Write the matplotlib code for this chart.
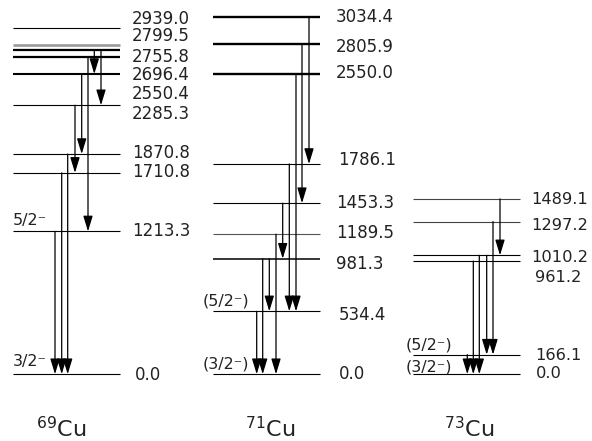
import matplotlib
matplotlib.use("Agg")
import matplotlib.pyplot as plt

plt.rcParams['font.family'] = ['DejaVu Sans']
plt.rcParams['mathtext.fontset'] = 'dejavusans'
plt.rcParams['mathtext.default'] = 'regular'

# ---------------- data ----------------
nuclei = ['69', '71', '73']

levels_69 = [0.0, 1213.3, 1710.8, 1870.8, 2285.3, 2550.4, 2696.4, 2755.8, 2799.5, 2939.0]
levels_71 = [0.0, 534.4, 981.3, 1189.5, 1453.3, 1786.1, 2550.0, 2805.9, 3034.4]
levels_73 = [0.0, 166.1, 961.2, 1010.2, 1297.2, 1489.1]

gamma_from_69 = [2755.8, 2755.8, 2696.4, 2550.4, 2285.3, 1870.8, 1710.8, 1213.3]
gamma_to_69 = [2550.4, 2285.3, 1213.3, 1870.8, 1710.8, 0.0, 0.0, 0.0]

gamma_from_71 = [3034.4, 2805.9, 2550.0, 1786.1, 1453.3, 1189.5, 981.3, 981.3, 534.4]
gamma_to_71 = [1786.1, 1453.3, 534.4, 534.4, 981.3, 0.0, 534.4, 0.0, 0.0]

gamma_from_73 = [1489.1, 1297.2, 1010.2, 1010.2, 961.2, 166.1]
gamma_to_73 = [1010.2, 166.1, 166.1, 0.0, 0.0, 0.0]

spins_69 = {1213.3: '5/2⁻', 0.0: '3/2⁻'}
spins_71 = {534.4: '(5/2⁻)', 0.0: '(3/2⁻)'}
spins_73 = {166.1: '(5/2⁻)', 0.0: '(3/2⁻)'}

# ---------------- layout (pixels) ----------------
W, H = 592, 441
Y0, SCALE = 374.2, 0.1177   # pixel row of 0 keV, pixels per keV


def py2e(py):
    return (Y0 - py) / SCALE


fig = plt.figure(figsize=(W / 100, H / 100), dpi=100)
ax = fig.add_axes([0, 0, 1, 1])
ax.set_xlim(0, W)
ax.set_ylim(py2e(H), py2e(0))
ax.axis('off')

schemes = [
    dict(levels=levels_69, gf=gamma_from_69, gt=gamma_to_69, spins=spins_69,
         x0=13, x1=120, labx=132, labsize=12,
         gx=[94.3, 101, 88, 81.7, 75, 67.7, 61.7, 55],
         laby={2939.0: 19, 2799.5: 36, 2755.8: 57, 2696.4: 75, 2550.4: 94,
               2285.3: 114, 1870.8: 152.5, 1710.8: 172, 1213.3: 231, 0.0: 375},
         labxo={0.0: 3},
         thick={2755.8: 1.6, 2696.4: 1.6, 2550.4: 1.5, 2799.5: 1.9},
         gray={2799.5: '#9a9a9a'},
         spinpos={1213.3: (13, 220.5), 0.0: (13, 361.5)},
         name=(61.5, 437)),
    dict(levels=levels_71, gf=gamma_from_71, gt=gamma_to_71, spins=spins_71,
         x0=213, x1=320, labx=336, labsize=12,
         gx=[309, 302, 296, 289.3, 282.7, 276, 269.3, 262.7, 256.7],
         laby={3034.4: 16.5, 2805.9: 46.5, 2550.0: 73.3, 1786.1: 160,
               1453.3: 203, 1189.5: 233, 981.3: 264, 534.4: 315, 0.0: 374},
         labxo={1786.1: 2, 534.4: 3, 0.0: 3},
         thick={3034.4: 1.7, 2805.9: 1.7, 2550.0: 1.7, 981.3: 1.1},
         gray={1189.5: '#555555'},
         spinpos={534.4: (203, 300.5), 0.0: (203, 364)},
         name=(270, 437)),
    dict(levels=levels_73, gf=gamma_from_73, gt=gamma_to_73, spins=spins_73,
         x0=413, x1=520, labx=531, labsize=11.7,
         gx=[500, 493, 486.7, 479.3, 473.3, 467.3],
         laby={1489.1: 200, 1297.2: 225, 1010.2: 257, 961.2: 278,
               166.1: 355, 0.0: 373},
         labxo={961.2: 4, 166.1: 4, 0.0: 5},
         thick={},
         gray={1489.1: '#444444', 1297.2: '#444444'},
         spinpos={166.1: (406, 345), 0.0: (406, 367.5)},
         name=(469.5, 437)),
]

for nuc, s in zip(nuclei, schemes):
    for e in s['levels']:
        ax.hlines(e, s['x0'], s['x1'], color=s['gray'].get(e, 'black'),
                  lw=s['thick'].get(e, 0.8), zorder=2)
        ax.text(s['labx'] + s['labxo'].get(e, 0), py2e(s['laby'][e]), f'{e:.1f}',
                fontsize=s['labsize'], ha='left', va='center', color='#222222')
    for (e0, e1, x) in zip(s['gf'], s['gt'], s['gx']):
        ax.annotate('', xy=(x, e1), xytext=(x, e0),
                    arrowprops=dict(arrowstyle='-|>,head_length=0.85,head_width=0.26',
                                    mutation_scale=11, lw=0.9, color='black',
                                    shrinkA=0, shrinkB=0), zorder=3)
    for e, lab in s['spins'].items():
        px, py = s['spinpos'][e]
        ax.text(px, py2e(py), lab, fontsize=11.5, ha='left', va='center',
                color='#222222')
    nx, ny = s['name']
    ax.text(nx, py2e(ny), f'$^{{{nuc}}}$Cu', fontsize=16, ha='center',
            va='baseline', color='#222222')

fig.savefig('out.png', dpi=100)
